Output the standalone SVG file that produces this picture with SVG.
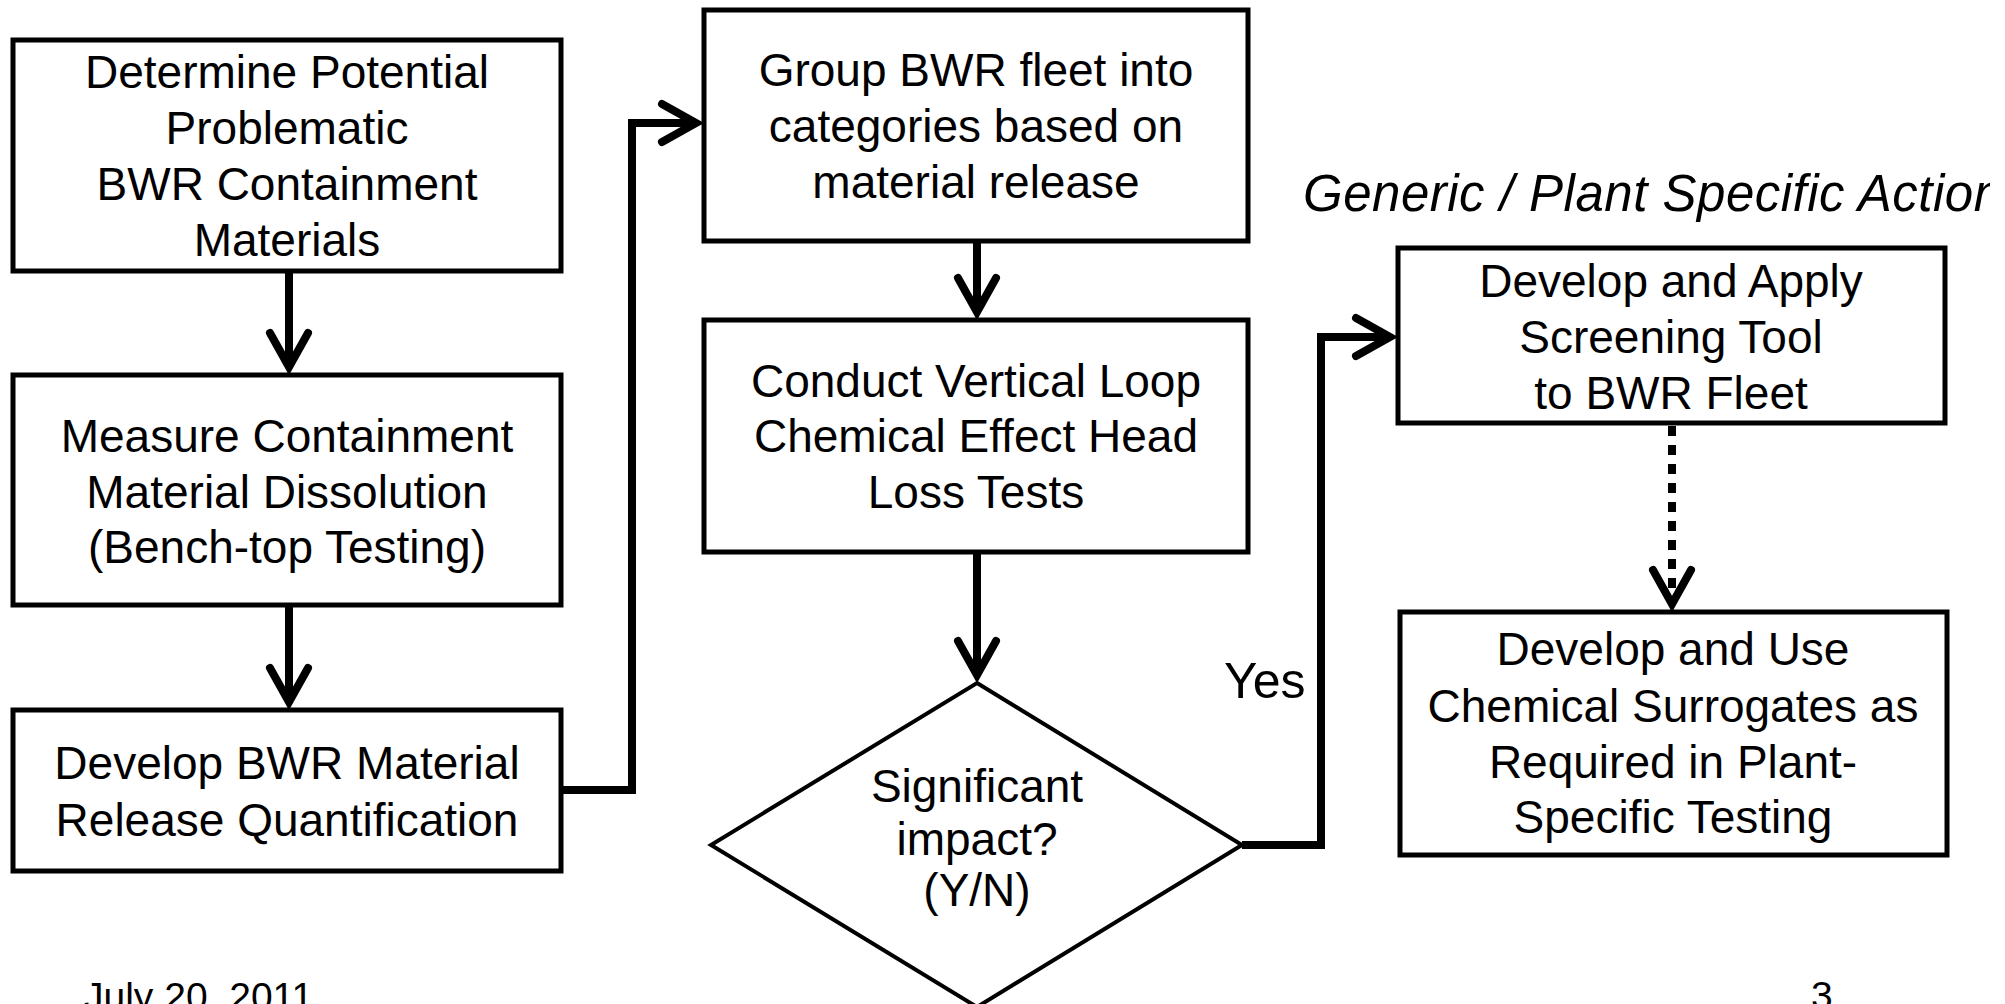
<svg xmlns="http://www.w3.org/2000/svg" width="2005" height="1004" viewBox="0 0 2005 1004">
<style>
.box{fill:#fff;stroke:#000;stroke-width:5}
.dia{fill:#fff;stroke:#000;stroke-width:4}
.t{font-family:"Liberation Sans",Arial,sans-serif;font-size:46px;fill:#000;text-anchor:middle}
.conn{fill:none;stroke:#000;stroke-width:8;stroke-linejoin:miter}
.dot{stroke-dasharray:10 9}
.foot{font-family:"Liberation Sans",Arial,sans-serif;font-size:39px;fill:#000}
</style>
<defs>
<marker id="ah" markerUnits="userSpaceOnUse" viewBox="-50 -30 60 60" refX="0" refY="0" markerWidth="60" markerHeight="60" orient="auto">
<path d="M-34,-19 L0,0 L-34,19" fill="none" stroke="#000" stroke-width="8" stroke-linecap="round" stroke-linejoin="miter"/>
</marker>
<clipPath id="clipTitle"><rect x="0" y="0" width="1990" height="1004"/></clipPath>
</defs>
<rect x="0" y="0" width="2005" height="1004" fill="#fff"/>

<g id="connectors">
<path class="conn" d="M289,271 L289,367" marker-end="url(#ah)"/>
<path class="conn" d="M289,605 L289,702" marker-end="url(#ah)"/>
<path class="conn" d="M561,790 L632,790 L632,123 L696,123" marker-end="url(#ah)"/>
<path class="conn" d="M977,241 L977,312" marker-end="url(#ah)"/>
<path class="conn" d="M977,552 L977,675" marker-end="url(#ah)"/>
<path class="conn" d="M1242,845 L1321,845 L1321,337 L1390,337" marker-end="url(#ah)"/>
<path class="conn dot" d="M1672,426 L1672,604"/>
<path class="conn" d="M1672,590 L1672,604" stroke-opacity="0" marker-end="url(#ah)"/>
<text x="1224" y="698" style="font-family:'Liberation Sans',Arial,sans-serif;font-size:50px;fill:#000">Yes</text>
</g>

<g id="n1">
<rect class="box" x="13" y="40" width="548" height="231"/>
<text class="t" x="287" y="88">Determine Potential</text>
<text class="t" x="287" y="144">Problematic</text>
<text class="t" x="287" y="200">BWR Containment</text>
<text class="t" x="287" y="256">Materials</text>
</g>

<g id="n2">
<rect class="box" x="13" y="375" width="548" height="230"/>
<text class="t" x="287" y="452">Measure Containment</text>
<text class="t" x="287" y="508">Material Dissolution</text>
<text class="t" x="287" y="563">(Bench-top Testing)</text>
</g>

<g id="n3">
<rect class="box" x="13" y="710" width="548" height="161"/>
<text class="t" x="287" y="779">Develop BWR Material</text>
<text class="t" x="287" y="836">Release Quantification</text>
</g>

<g id="n4">
<rect class="box" x="704" y="10" width="544" height="231"/>
<text class="t" x="976" y="86">Group BWR fleet into</text>
<text class="t" x="976" y="142">categories based on</text>
<text class="t" x="976" y="198">material release</text>
</g>

<g id="n5">
<rect class="box" x="704" y="320" width="544" height="232"/>
<text class="t" x="976" y="397">Conduct Vertical Loop</text>
<text class="t" x="976" y="452">Chemical Effect Head</text>
<text class="t" x="976" y="508">Loss Tests</text>
</g>

<g id="n6">
<polygon class="dia" points="977,683 1242,845 977,1007 711,845"/>
<text class="t" x="977" y="802">Significant</text>
<text class="t" x="977" y="855">impact?</text>
<text class="t" x="977" y="906">(Y/N)</text>
</g>

<g id="title">
<text x="1303" y="211" clip-path="url(#clipTitle)" style="font-family:'Liberation Sans',Arial,sans-serif;font-size:51px;font-style:italic;letter-spacing:0.5px;fill:#000">Generic / Plant Specific Action</text>
</g>

<g id="n7">
<rect class="box" x="1398" y="248" width="547" height="175"/>
<text class="t" x="1671" y="297">Develop and Apply</text>
<text class="t" x="1671" y="353">Screening Tool</text>
<text class="t" x="1671" y="409">to BWR Fleet</text>
</g>

<g id="n8">
<rect class="box" x="1400" y="612" width="547" height="243"/>
<text class="t" x="1673" y="665">Develop and Use</text>
<text class="t" x="1673" y="722">Chemical Surrogates as</text>
<text class="t" x="1673" y="778">Required in Plant-</text>
<text class="t" x="1673" y="833">Specific Testing</text>
</g>

<g id="footer">
<text class="foot" x="84" y="1010">July 20, 2011</text>
<text class="foot" x="1811" y="1009">3</text>
</g>
</svg>
